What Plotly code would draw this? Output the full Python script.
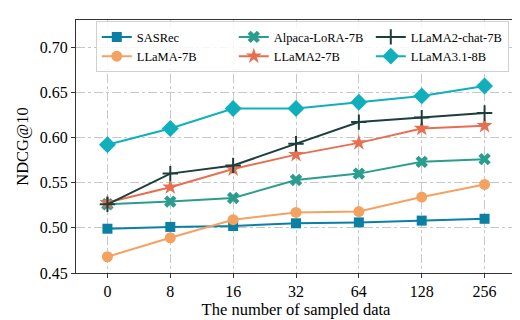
import plotly.graph_objects as go

x_labels = ["0", "8", "16", "32", "64", "128", "256"]

sasrec = [0.499, 0.501, 0.502, 0.505, 0.506, 0.508, 0.510]
llama_7b = [0.468, 0.489, 0.509, 0.517, 0.518, 0.534, 0.548]
alpaca_lora_7b = [0.526, 0.529, 0.533, 0.553, 0.560, 0.573, 0.576]
llama2_7b = [0.528, 0.545, 0.565, 0.581, 0.594, 0.610, 0.613]
llama2_chat_7b = [0.526, 0.560, 0.569, 0.593, 0.617, 0.622, 0.627]
llama31_8b = [0.592, 0.610, 0.632, 0.632, 0.639, 0.646, 0.657]

y_ticks = [0.45, 0.50, 0.55, 0.60, 0.65, 0.70]

series = [
    ("SASRec", sasrec, "#0b7fa4", "square", 10, 1),
    ("LLaMA-7B", llama_7b, "#f4a261", "circle", 11, 4),
    ("Alpaca-LoRA-7B", alpaca_lora_7b, "#2a9d8f", "x", 11, 2),
    ("LLaMA2-7B", llama2_7b, "#e76f51", "star", 12, 5),
    ("LLaMA2-chat-7B", llama2_chat_7b, "#1d3f3b", "cross-thin-open", 11, 3),
    ("LLaMA3.1-8B", llama31_8b, "#10afbc", "diamond", 13, 6),
]

fig = go.Figure()

for name, vals, color, symbol, size, rank in series:
    fig.add_trace(
        go.Scatter(
            x=x_labels,
            y=vals,
            mode="lines+markers",
            name=name,
            legendrank=rank,
            line=dict(color=color, width=2),
            marker=dict(
                symbol=symbol,
                size=size,
                color=color,
                line=dict(color=color, width=2 if "open" in symbol else 0),
            ),
        )
    )

axis_common = dict(
    showline=True,
    linecolor="#333333",
    linewidth=1,
    mirror=True,
    ticks="outside",
    ticklen=4,
    tickcolor="#333333",
    showgrid=True,
    gridcolor="#c8c8c8",
    griddash="dashdot",
    gridwidth=1,
    zeroline=False,
    automargin=False,
    tickfont=dict(size=16, color="black"),
)

fig.update_layout(
    width=520,
    height=320,
    margin=dict(l=68, r=12, t=12, b=55),
    paper_bgcolor="white",
    plot_bgcolor="white",
    font=dict(family="Liberation Serif", color="black"),
    xaxis=dict(
        axis_common,
        type="category",
        range=[-0.5, 6.5],
        title=dict(text="The number of sampled data", font=dict(size=16.5), standoff=1),
    ),
    yaxis=dict(
        axis_common,
        range=[0.45, 0.73],
        tickvals=y_ticks,
        tickformat=".2f",
        title=dict(text="NDCG@10", font=dict(size=16.5), standoff=7),
    ),
    legend=dict(
        orientation="h",
        x=0.045,
        y=0.995,
        xanchor="left",
        yanchor="top",
        bgcolor="rgba(255,255,255,0.85)",
        bordercolor="#d0d0d0",
        borderwidth=1,
        font=dict(size=12.5),
        entrywidth=92,
        tracegroupgap=0,
        itemwidth=30,
    ),
    showlegend=True,
)

fig.write_html("out.html")
